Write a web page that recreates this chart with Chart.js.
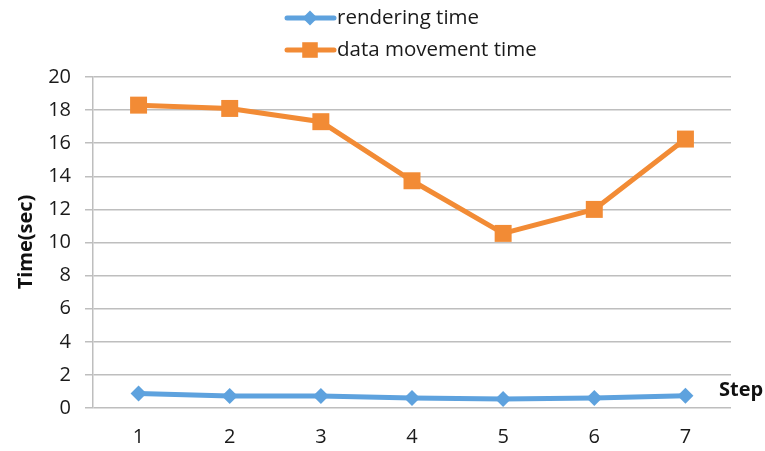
<!DOCTYPE html>
<html>
<head>
<meta charset="utf-8">
<script src="https://cdn.jsdelivr.net/npm/chart.js@4.4.1/dist/chart.umd.min.js"></script>
<style>
  html, body { margin: 0; padding: 0; background: #fff; }
  #wrap { width: 765px; height: 451px; position: relative; }
</style>
</head>
<body>
<div id="wrap"><canvas id="c" width="765" height="451"></canvas></div>
<script>
const steps = ['1', '2', '3', '4', '5', '6', '7'];
const renderingTime = [0.88, 0.72, 0.72, 0.6, 0.55, 0.6, 0.74];
const dataMovementTime = [18.3, 18.1, 17.3, 13.73, 10.55, 12.0, 16.25];
const seriesNames = ['rendering time', 'data movement time'];
const yTicks = [0, 2, 4, 6, 8, 10, 12, 14, 16, 18, 20];

const BLUE = '#5EA2DE';
const ORANGE = '#F28B35';
const FONT = '"Open Sans", "Liberation Sans", sans-serif';

// Legend, axis title and "Step" caption drawn onto the canvas
const decorations = {
  id: 'decorations',
  afterDraw(chart) {
    const ctx = chart.ctx;
    ctx.save();
    const items = [
      { name: seriesNames[0], color: BLUE, style: 'rectRot', r: 7.5, y: 18 },
      { name: seriesNames[1], color: ORANGE, style: 'rect', r: 11, y: 50 }
    ];
    items.forEach(it => {
      ctx.strokeStyle = it.color;
      ctx.lineWidth = 5;
      ctx.lineCap = 'round';
      ctx.beginPath();
      ctx.moveTo(287, it.y);
      ctx.lineTo(334, it.y);
      ctx.stroke();
      ctx.fillStyle = it.color;
      Chart.helpers.drawPoint(ctx, { pointStyle: it.style, radius: it.r, borderWidth: 0 }, 310, it.y);
      ctx.fillStyle = '#1a1a1a';
      ctx.font = '20.5px ' + FONT;
      ctx.textAlign = 'left';
      ctx.textBaseline = 'middle';
      ctx.fillText(it.name, 337, it.y);
    });

    ctx.fillStyle = '#111';
    ctx.font = 'bold 20px ' + FONT;
    ctx.textAlign = 'left';
    ctx.textBaseline = 'middle';
    ctx.fillText('Step', 719, 390);

    ctx.translate(26, 242);
    ctx.rotate(-Math.PI / 2);
    ctx.textAlign = 'center';
    ctx.fillText('Time(sec)', 0, 0);
    ctx.restore();
  }
};

new Chart(document.getElementById('c'), {
  type: 'line',
  data: {
    labels: steps,
    datasets: [
      {
        label: seriesNames[0],
        data: renderingTime,
        borderColor: BLUE,
        backgroundColor: BLUE,
        borderWidth: 5,
        pointStyle: 'rectRot',
        pointRadius: 8,
        pointBorderWidth: 0,
        tension: 0
      },
      {
        label: seriesNames[1],
        data: dataMovementTime,
        borderColor: ORANGE,
        backgroundColor: ORANGE,
        borderWidth: 5,
        pointStyle: 'rect',
        pointRadius: 12,
        pointBorderWidth: 0,
        tension: 0
      }
    ]
  },
  options: {
    responsive: false,
    animation: false,
    layout: { padding: { top: 77, right: 34, left: 0, bottom: 0 } },
    plugins: { legend: { display: false }, tooltip: { enabled: false } },
    scales: {
      x: {
        offset: true,
        grid: { display: false },
        border: { display: false },
        ticks: { color: '#1a1a1a', font: { family: FONT, size: 20 }, padding: 9 },
        afterFit(s) { s.height = 43; }
      },
      y: {
        min: 0,
        max: 20,
        afterBuildTicks(s) { s.ticks = yTicks.map(v => ({ value: v })); },
        grid: { color: '#BEBEBE', lineWidth: 1.5, tickLength: 8, drawTicks: true },
        border: { display: true, color: '#BEBEBE', width: 1.5 },
        ticks: { color: '#1a1a1a', font: { family: FONT, size: 20 }, padding: 14 },
        afterFit(s) { s.width = 93; }
      }
    }
  },
  plugins: [decorations]
});
</script>
</body>
</html>
